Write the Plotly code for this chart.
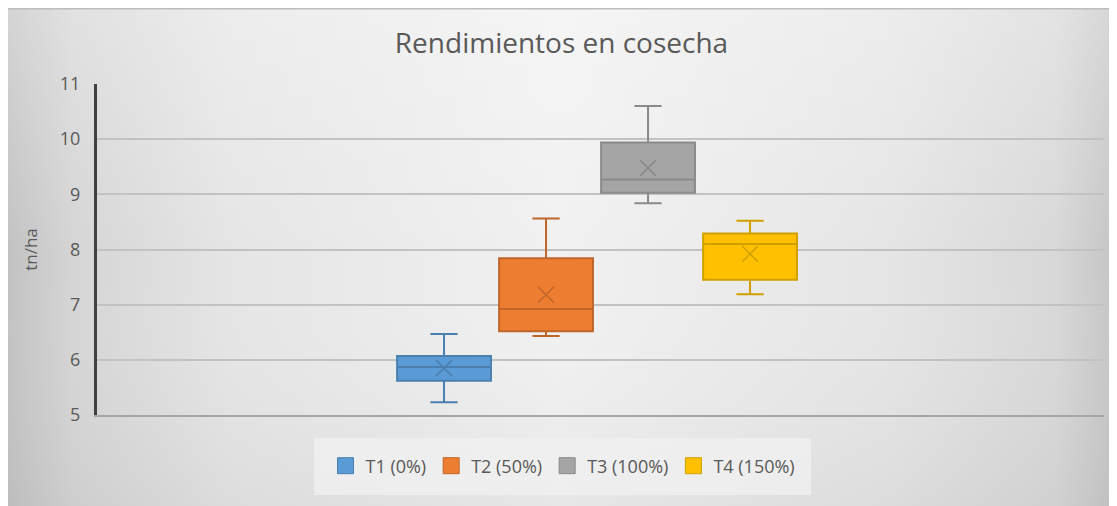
import base64
import plotly.graph_objects as go

# ---- data ----
treatments = ["T1 (0%)", "T2 (50%)", "T3 (100%)", "T4 (150%)"]
lower_whisker = [5.23, 6.43, 8.84, 7.19]
q1_vals = [5.62, 6.52, 9.03, 7.45]
median_vals = [5.87, 6.92, 9.27, 8.10]
q3_vals = [6.07, 7.84, 9.94, 8.29]
upper_whisker = [6.47, 8.56, 10.60, 8.52]
mean_vals = [5.85, 7.18, 9.48, 7.92]

fill_colors = ["#5B9BD5", "#ED7D31", "#A5A5A5", "#FFC000"]
line_colors = ["#4A7FB0", "#C0652A", "#8A8A8A", "#CFA000"]

title_text = "Rendimientos en cosecha"
y_title = "tn/ha"
y_ticks = [5, 6, 7, 8, 9, 10, 11]

FONT = "Open Sans"
TXT = "#595959"

# ---- geometry: page pixels, figure sits at (8, 8) due to body margin ----
OFF = 8
W, H = 1110 - OFF, 506 - OFF
L, R, T, B = 97 - OFF, 1104 - OFF, 84 - OFF, 415 - OFF
pw, ph = R - L, B - T


def px_x(p):
    return (p - OFF - L) / pw


def px_y(p):
    return (B - (p - OFF)) / ph


fig = go.Figure()

for i, name in enumerate(treatments):
    fig.add_trace(go.Box(
        x=[name],
        q1=[q1_vals[i]], median=[median_vals[i]], q3=[q3_vals[i]],
        lowerfence=[lower_whisker[i]], upperfence=[upper_whisker[i]],
        name=name,
        fillcolor=fill_colors[i],
        line=dict(color=line_colors[i], width=2),
        width=0.92,
        whiskerwidth=0.29,
        boxpoints=False,
        showlegend=False,
        hoverinfo="y",
    ))
    fig.add_trace(go.Scatter(
        x=[name], y=[mean_vals[i]], mode="markers",
        marker=dict(symbol="x-thin", size=16,
                    line=dict(color=line_colors[i], width=1.5)),
        showlegend=False, hoverinfo="y",
    ))

# legend entries (square swatches)
for i, name in enumerate(treatments):
    fig.add_trace(go.Scatter(
        x=[None], y=[None], mode="markers", name=name,
        marker=dict(symbol="square", size=18, color=fill_colors[i],
                    line=dict(color=line_colors[i], width=1)),
        showlegend=True,
    ))

# background gradient as an SVG image covering the whole chart
svg = f'''<svg xmlns="http://www.w3.org/2000/svg" width="{W}" height="{H}" viewBox="0 0 {W} {H}" preserveAspectRatio="none">
<defs>
<linearGradient id="h" x1="0" y1="0" x2="1" y2="0">
<stop offset="0" stop-color="#c2c2c2"/>
<stop offset="0.06" stop-color="#d5d5d5"/>
<stop offset="0.2" stop-color="#e5e5e5"/>
<stop offset="0.5" stop-color="#f1f1f1"/>
<stop offset="0.8" stop-color="#e5e5e5"/>
<stop offset="0.95" stop-color="#d8d8d8"/>
<stop offset="1" stop-color="#c6c6c6"/>
</linearGradient>
<linearGradient id="v" x1="0" y1="0" x2="0" y2="1">
<stop offset="0" stop-color="#ffffff" stop-opacity="0.3"/>
<stop offset="0.5" stop-color="#ffffff" stop-opacity="0"/>
<stop offset="1" stop-color="#9a9a9a" stop-opacity="0.12"/>
</linearGradient>
</defs>
<rect x="0" y="0" width="{W}" height="{H}" fill="url(#h)"/>
<rect x="0" y="0" width="{W}" height="{H}" fill="url(#v)"/>
<rect x="0" y="0" width="{W}" height="1.5" fill="#bdbdbd"/>
</svg>'''
src = "data:image/svg+xml;base64," + base64.b64encode(svg.encode()).decode()

fig.add_layout_image(dict(
    source=src, xref="paper", yref="paper",
    x=-L / pw, y=(B) / ph, sizex=W / pw, sizey=H / ph,
    xanchor="left", yanchor="top", sizing="stretch", layer="below",
))

# legend background panel
fig.add_shape(type="rect", xref="paper", yref="paper",
              x0=px_x(314), x1=px_x(811), y0=px_y(495), y1=px_y(438),
              fillcolor="rgba(240,240,240,0.8)", line=dict(width=0), layer="below")

fig.update_layout(
    width=W, height=H,
    margin=dict(l=L, r=W - R, t=T, b=H - B, pad=0),
    paper_bgcolor="white",
    plot_bgcolor="rgba(0,0,0,0)",
    font=dict(family=FONT, color=TXT, size=16),
    title=dict(text=title_text, x=(561.5 - OFF) / W, xanchor="center",
               y=1 - (43 - OFF) / H, yanchor="middle",
               font=dict(family=FONT, size=28, color=TXT)),
    showlegend=True,
    legend=dict(orientation="h", x=px_x(563), xanchor="center",
                y=px_y(466), yanchor="middle",
                bgcolor="rgba(0,0,0,0)", font=dict(size=18, color=TXT),
                itemclick=False),
    xaxis=dict(type="category", categoryorder="array", categoryarray=treatments,
               range=[-3.402, 6.47], showticklabels=False, ticks="",
               showgrid=False, zeroline=False,
               showline=True, linecolor="#a6a6a6", linewidth=2),
    yaxis=dict(range=[5, 11], tickvals=y_ticks, ticks="",
               showgrid=True, gridcolor="#c2c2c2", gridwidth=1.5,
               zeroline=False, showline=True, linecolor="#404040", linewidth=3,
               ticklabelstandoff=10,
               tickfont=dict(size=18, color=TXT),
               title=dict(text=y_title, standoff=18,
                          font=dict(size=17, color=TXT))),
)

fig.write_html("out.html")
